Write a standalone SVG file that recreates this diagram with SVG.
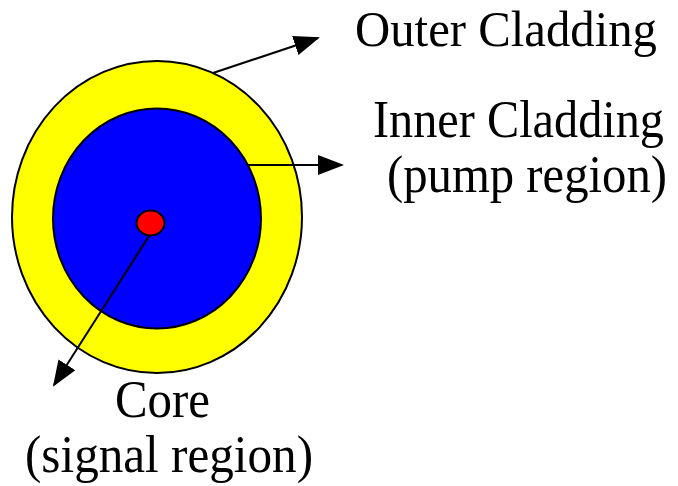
<svg xmlns="http://www.w3.org/2000/svg" width="678" height="486" viewBox="0 0 678 486">
<style>
.lbl{font-family:"Liberation Serif","Times New Roman",serif;font-size:48px;fill:#000}
.ring{stroke:#000;stroke-width:2}
.conn{stroke:#000;stroke-width:2;fill:none;marker-end:url(#ah)}
</style>
<defs>
<marker id="ah" markerWidth="13" markerHeight="10" refX="12" refY="5" orient="auto" markerUnits="strokeWidth">
<path d="M0,0 L13,5 L0,10 Z" fill="#000"/>
</marker>
</defs>
<rect width="678" height="486" fill="#fff"/>
<g id="outer-cladding">
<ellipse class="ring" cx="157" cy="217" rx="145" ry="156" fill="#ffff00"/>
</g>
<g id="inner-cladding">
<ellipse class="ring" cx="157" cy="218.5" rx="104" ry="110" fill="#0000ff"/>
</g>
<g id="core">
<ellipse class="ring" cx="150.5" cy="223" rx="14" ry="12.5" fill="#ff0000"/>
</g>
<g id="connectors">
<line class="conn" x1="213" y1="73" x2="318" y2="38"/>
<line class="conn" x1="247" y1="165" x2="342" y2="165"/>
<line class="conn" x1="149" y1="236" x2="54" y2="385"/>
</g>
<g id="labels">
<text class="lbl" transform="translate(355,46) scale(1,1.04)" textLength="302" lengthAdjust="spacingAndGlyphs">Outer Cladding</text>
<text class="lbl" transform="translate(373,137) scale(1,1.08)" textLength="291" lengthAdjust="spacingAndGlyphs">Inner Cladding</text>
<text class="lbl" transform="translate(387,192) scale(1,1.08)" textLength="280" lengthAdjust="spacingAndGlyphs">(pump region)</text>
<text class="lbl" transform="translate(115,417) scale(1,1.08)" textLength="95" lengthAdjust="spacingAndGlyphs">Core</text>
<text class="lbl" transform="translate(25,472) scale(1,1.08)" textLength="288" lengthAdjust="spacingAndGlyphs">(signal region)</text>
</g>
</svg>
